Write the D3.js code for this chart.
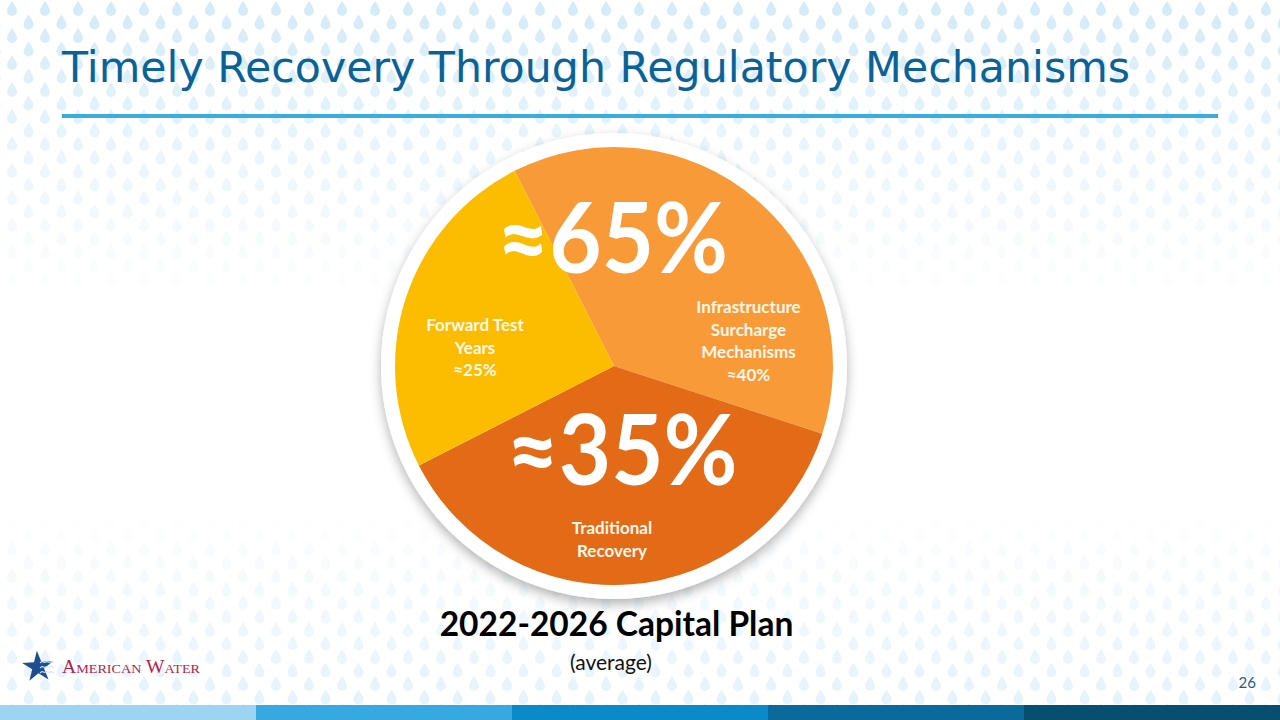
<!DOCTYPE html>
<html>
<head>
<meta charset="utf-8">
<script src="https://cdn.jsdelivr.net/npm/d3@7"></script>
<style>
  html, body { margin: 0; padding: 0; background: #fff; }
  svg { display: block; }
</style>
</head>
<body>
<script>
// data
const sliceNames = ['Infrastructure Surcharge Mechanisms', 'Traditional Recovery', 'Forward Test Years']
const sliceShares = [37.5, 37.5, 25]   // as drawn on the pie
const sliceLines = [['Infrastructure', 'Surcharge', 'Mechanisms', '≈40%'], ['Traditional', 'Recovery'], ['Forward Test', 'Years', '≈25%']]
const sliceColors = ['#F99A38', '#E36A16', '#FCBD00']
const totalLabels = ['≈65%', '≈35%']
const barColors = ['#9CD4F1', '#37A9E0', '#0B8ACA', '#0A6A9C', '#084E6F']

const width = 1280
const height = 720
const cx = 614
const cy = 366
const radius = 219

const svg = d3.select('body').append('svg').attr('width', width).attr('height', height)
const defs = svg.append('defs')

const shadow = defs.append('filter').attr('id', 'shadow').attr('x', '-20%').attr('y', '-20%').attr('width', '140%').attr('height', '140%')
shadow.append('feDropShadow').attr('dx', 0).attr('dy', 5).attr('stdDeviation', 6).attr('flood-color', '#000').attr('flood-opacity', 0.3)

// water drop background
const dropPath = 'M0,-7 C2.5,-3 5,0 5,3 A5,5 0 0 1 -5,3 C-5,0 -2.5,-3 0,-7 Z'
const drops = []
for (let row = 0; row < 54; row++) {
    for (let col = -1; col < 41; col++) {
        const x = col * 33 + (row % 2 ? 16.5 : 0) + 12
        const y = row * 13.5 + 8
        const top = Math.max(0, 1 - y / 300)
        const bottom = Math.max(0, Math.min(1, (y - 500) / 200)) * 0.6
        const o = Math.max(top, bottom)
        if (o > 0.04) drops.push({x, y, o})
    }
}
svg.append('g').selectAll('path').data(drops).enter().append('path')
    .attr('d', dropPath)
    .attr('transform', (d) => `translate(${d.x},${d.y})`)
    .attr('fill', '#D3EBF8')
    .attr('opacity', (d) => d.o)

// title
svg.append('text').text('Timely Recovery Through Regulatory Mechanisms')
    .attr('x', 62).attr('y', 82)
    .attr('font-family', 'DejaVu Sans').attr('font-size', 43)
    .attr('textLength', 1068).attr('lengthAdjust', 'spacingAndGlyphs')
    .attr('fill', '#0A6398')
svg.append('rect').attr('x', 62).attr('y', 114).attr('width', 1156).attr('height', 4).attr('fill', '#3BACDF')

// pie
const pieG = svg.append('g').attr('transform', `translate(${cx},${cy})`)
pieG.append('circle').attr('r', radius + 14).attr('fill', '#fff').attr('filter', 'url(#shadow)')

const pie = d3.pie().sort(null).startAngle(-27 * Math.PI / 180).endAngle((360 - 27) * Math.PI / 180)
const arc = d3.arc().innerRadius(0).outerRadius(radius)
const arcs = pie(sliceShares)

pieG.selectAll('path.slice').data(arcs).enter().append('path')
    .attr('class', 'slice')
    .attr('d', arc)
    .attr('fill', (d, i) => sliceColors[i])

// label placement
const labelSpots = [[748.5, 313], [612, 534], [475, 331]]
const labelFont = 'Lato, "Open Sans", sans-serif'
sliceLines.forEach((lines, i) => {
    const t = svg.append('text')
        .attr('text-anchor', 'middle')
        .attr('font-family', labelFont).attr('font-weight', 700).attr('font-size', 17)
        .attr('fill', '#FFF8EA')
    lines.forEach((line, j) => {
        t.append('tspan').attr('x', labelSpots[i][0]).attr('y', labelSpots[i][1] + j * 22.6).text(line)
    })
})

const totalSpots = [[612.5, 273], [622, 485]]
svg.selectAll('text.total').data(totalLabels).enter().append('text')
    .attr('class', 'total')
    .attr('x', (d, i) => totalSpots[i][0]).attr('y', (d, i) => totalSpots[i][1])
    .attr('text-anchor', 'middle')
    .attr('font-family', labelFont).attr('font-weight', 700).attr('font-size', 97)
    .attr('textLength', 231).attr('lengthAdjust', 'spacingAndGlyphs')
    .attr('fill', '#fff')
    .text((d) => d)

// caption
svg.append('text').text('2022-2026 Capital Plan')
    .attr('x', 616.5).attr('y', 636).attr('text-anchor', 'middle')
    .attr('font-family', labelFont).attr('font-weight', 700).attr('font-size', 33.5)
    .attr('fill', '#000')
svg.append('text').text('(average)')
    .attr('x', 611).attr('y', 670).attr('text-anchor', 'middle')
    .attr('font-family', labelFont).attr('font-size', 21)
    .attr('fill', '#111')

// logo
const logo = svg.append('g')
logo.append('path').attr('d', d3.symbol(d3.symbolStar, 300)()).attr('transform', 'translate(38,667) rotate(-4)').attr('fill', '#1E4E90')
const wave = d3.line().curve(d3.curveBasis)
;[662, 667, 672].forEach((y) => {
    const pts = d3.range(0, 7).map((k) => [40 + k * 2.3, y + (k % 2 ? -1 : 1)])
    logo.append('path').attr('d', wave(pts)).attr('fill', 'none').attr('stroke', '#cfe6f6').attr('stroke-width', 1.1)
})
logo.append('text').text('American Water')
    .attr('x', 62).attr('y', 673)
    .attr('font-family', 'Liberation Serif').attr('font-size', 18).attr('font-variant', 'small-caps')
    .attr('textLength', 138).attr('lengthAdjust', 'spacingAndGlyphs')
    .attr('fill', '#B11F50')

// page number
svg.append('text').text('26')
    .attr('x', 1256).attr('y', 688).attr('text-anchor', 'end')
    .attr('font-family', labelFont).attr('font-size', 15)
    .attr('fill', '#1B5E8A')

// bottom colour bar
const barX = d3.scaleBand().domain(d3.range(barColors.length)).range([0, width])
svg.append('g').selectAll('rect').data(barColors).enter().append('rect')
    .attr('x', (d, i) => barX(i)).attr('y', 705)
    .attr('width', barX.bandwidth() + 0.5).attr('height', 15)
    .attr('fill', (d) => d)
</script>
</body>
</html>
